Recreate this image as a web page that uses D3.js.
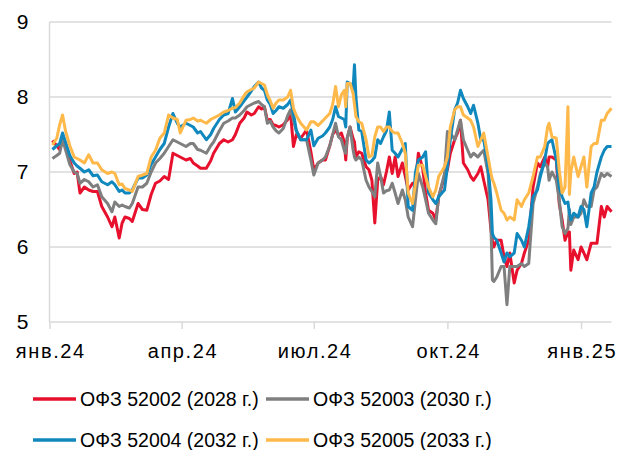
<!DOCTYPE html>
<html><head><meta charset="utf-8">
<script src="https://cdn.jsdelivr.net/npm/d3@7"></script>
<style>body{margin:0;background:#fff}svg{display:block;font-family:"Liberation Sans",Arial,sans-serif}</style>
</head><body><svg id="c" width="629" height="450"></svg>
<script>
const dates = ["2024-01-03","2024-01-06","2024-01-08","2024-01-10","2024-01-12","2024-01-15","2024-01-18","2024-01-20","2024-01-22","2024-01-25","2024-01-28","2024-01-31","2024-02-03","2024-02-06","2024-02-10","2024-02-13","2024-02-15","2024-02-18","2024-02-20","2024-02-22","2024-02-25","2024-02-27","2024-03-02","2024-03-05","2024-03-08","2024-03-11","2024-03-14","2024-03-17","2024-03-20","2024-03-23","2024-03-26","2024-03-29","2024-03-31","2024-04-04","2024-04-07","2024-04-09","2024-04-12","2024-04-14","2024-04-18","2024-04-21","2024-04-23","2024-04-27","2024-04-30","2024-05-03","2024-05-06","2024-05-08","2024-05-11","2024-05-14","2024-05-16","2024-05-19","2024-05-21","2024-05-24","2024-05-26","2024-05-28","2024-05-30","2024-06-01","2024-06-03","2024-06-05","2024-06-07","2024-06-10","2024-06-13","2024-06-15","2024-06-17","2024-06-19","2024-06-22","2024-06-26","2024-06-29","2024-07-01","2024-07-04","2024-07-07","2024-07-09","2024-07-12","2024-07-14","2024-07-16","2024-07-18","2024-07-20","2024-07-22","2024-07-23","2024-07-24","2024-07-26","2024-07-28","2024-07-29","2024-07-30","2024-08-01","2024-08-03","2024-08-06","2024-08-08","2024-08-10","2024-08-12","2024-08-14","2024-08-16","2024-08-18","2024-08-20","2024-08-22","2024-08-24","2024-08-26","2024-08-28","2024-08-31","2024-09-02","2024-09-04","2024-09-07","2024-09-09","2024-09-11","2024-09-14","2024-09-16","2024-09-18","2024-09-21","2024-09-23","2024-09-25","2024-09-29","2024-10-01","2024-10-03","2024-10-06","2024-10-08","2024-10-10","2024-10-12","2024-10-15","2024-10-17","2024-10-19","2024-10-22","2024-10-24","2024-10-26","2024-10-29","2024-10-31","2024-11-01","2024-11-02","2024-11-04","2024-11-07","2024-11-09","2024-11-11","2024-11-13","2024-11-16","2024-11-18","2024-11-21","2024-11-23","2024-11-26","2024-11-29","2024-12-02","2024-12-04","2024-12-07","2024-12-09","2024-12-10","2024-12-12","2024-12-15","2024-12-17","2024-12-19","2024-12-21","2024-12-23","2024-12-24","2024-12-25","2024-12-27","2024-12-30","2025-01-01","2025-01-03","2025-01-05","2025-01-08","2025-01-10","2025-01-12","2025-01-15","2025-01-17","2025-01-19","2025-01-22"];

const ofz52002 = [7.42,7.35,7.30,7.45,7.35,7.15,6.98,7.00,6.72,6.80,6.76,6.74,6.74,6.54,6.40,6.27,6.40,6.12,6.32,6.40,6.38,6.34,6.58,6.50,6.49,6.70,6.85,6.88,6.94,6.90,7.25,7.22,7.20,7.16,7.18,7.12,7.08,7.05,7.05,7.15,7.25,7.38,7.43,7.40,7.43,7.50,7.65,7.72,7.80,7.76,7.78,7.87,7.84,7.87,7.69,7.70,7.63,7.62,7.60,7.63,7.70,7.78,7.34,7.50,7.45,7.56,7.27,7.03,7.12,7.16,7.16,7.35,7.50,7.56,7.49,7.52,7.40,7.16,7.45,7.60,7.45,7.40,7.20,7.27,7.25,7.07,7.03,6.89,6.32,6.89,6.94,6.83,7.00,7.20,6.98,7.20,6.94,7.12,6.94,6.76,6.85,6.85,7.25,7.05,6.72,6.49,6.45,6.36,6.67,6.94,7.03,7.25,7.43,7.52,7.69,7.12,7.03,6.94,6.89,6.98,7.07,6.89,6.63,6.23,6.09,6.00,6.09,6.09,5.87,5.74,5.92,5.52,5.69,5.78,5.92,6.09,6.80,7.12,7.07,7.20,7.07,7.20,7.20,7.16,6.58,6.36,6.09,6.20,6.20,5.69,5.96,5.83,6.00,5.92,5.83,6.05,6.05,6.05,6.54,6.40,6.54,6.47];

const ofz52003 = [7.18,7.22,7.25,7.43,7.30,7.10,7.00,6.98,6.85,6.90,6.87,6.80,6.83,6.67,6.58,6.47,6.60,6.54,6.56,6.54,6.52,6.58,6.80,6.80,6.85,7.00,7.12,7.18,7.25,7.34,7.43,7.40,7.38,7.34,7.38,7.38,7.30,7.29,7.25,7.35,7.40,7.55,7.65,7.68,7.72,7.72,7.76,7.82,7.87,7.90,7.92,7.94,7.90,7.87,7.65,7.68,7.60,7.55,7.52,7.58,7.75,7.83,7.69,7.55,7.43,7.43,7.16,6.96,7.12,7.16,7.20,7.35,7.50,7.65,7.47,7.43,7.29,7.25,7.45,7.60,7.30,7.20,7.16,7.20,7.16,6.89,6.80,6.74,6.67,7.12,6.94,6.72,6.75,6.76,6.85,6.72,6.58,6.76,6.63,6.40,6.27,6.63,6.98,6.80,6.63,6.45,6.36,6.31,6.67,6.98,7.54,7.52,7.43,7.56,7.69,7.43,7.29,7.20,7.25,7.20,7.25,7.29,6.98,6.27,5.56,5.54,5.60,5.74,5.74,5.23,5.74,5.74,5.74,5.78,5.74,5.78,6.58,6.80,6.98,7.12,7.07,6.89,7.00,6.89,6.63,6.27,6.18,6.25,6.50,6.30,6.40,6.40,6.45,6.63,6.54,6.54,6.76,6.80,6.98,6.94,6.98,6.94];

const ofz52004 = [7.30,7.35,7.38,7.52,7.40,7.22,7.12,7.08,7.05,7.00,7.03,6.95,6.96,6.87,6.83,6.87,6.83,6.74,6.76,6.72,6.72,6.76,6.92,6.92,6.96,7.10,7.20,7.30,7.38,7.60,7.78,7.65,7.60,7.65,7.62,7.60,7.52,7.54,7.43,7.50,7.58,7.70,7.76,7.78,7.98,7.80,7.87,7.95,8.00,8.08,8.14,8.20,8.12,8.09,7.96,7.90,7.78,7.82,7.87,7.85,7.90,7.96,7.78,7.55,7.43,7.43,7.56,7.35,7.45,7.48,7.52,7.60,7.70,7.87,7.74,7.72,7.70,7.60,8.20,8.18,8.10,8.43,8.00,7.56,7.54,7.16,7.12,7.15,7.20,7.43,7.38,7.47,7.55,7.80,7.29,7.25,7.20,7.31,7.38,6.54,6.49,7.00,7.16,7.20,7.27,6.72,6.63,6.58,6.67,6.76,7.07,7.43,7.83,7.92,8.09,7.98,7.87,7.78,7.89,7.65,7.43,7.43,7.07,6.63,6.18,6.13,6.09,5.92,5.80,5.92,5.87,5.92,6.18,6.09,6.00,6.27,6.67,6.76,6.94,7.16,7.38,7.40,7.43,7.16,6.80,6.67,6.58,6.60,6.45,6.36,6.45,6.40,6.54,6.50,6.27,6.72,6.80,7.00,7.20,7.29,7.34,7.34];

const ofz52005 = [7.36,7.45,7.63,7.76,7.55,7.35,7.20,7.18,7.16,7.12,7.23,7.12,7.12,7.03,6.98,7.00,6.98,6.83,6.84,6.78,6.76,6.74,6.94,6.96,6.98,7.20,7.29,7.45,7.52,7.76,7.72,7.70,7.52,7.69,7.70,7.72,7.68,7.69,7.65,7.70,7.72,7.76,7.80,7.82,7.85,7.86,7.92,8.02,8.07,8.10,8.12,8.20,8.18,8.16,8.03,7.95,7.85,7.92,7.96,7.96,8.00,8.09,7.85,7.75,7.65,7.56,7.67,7.67,7.62,7.68,7.72,7.78,7.90,8.14,7.87,8.03,8.09,7.87,8.18,8.18,8.05,7.90,7.74,7.67,7.65,7.43,7.20,7.22,7.47,7.60,7.60,7.54,7.60,7.60,7.54,7.52,7.52,7.38,7.25,6.72,6.58,6.85,7.09,7.09,6.94,6.80,6.67,6.76,6.94,7.07,7.20,7.60,7.83,7.87,7.87,7.76,7.72,7.69,7.60,7.34,7.43,7.52,7.20,6.98,6.90,6.85,6.72,6.49,6.45,6.36,6.40,6.36,6.63,6.54,6.63,6.72,6.94,7.20,7.20,7.34,7.60,7.65,7.47,7.45,7.03,6.72,6.80,7.87,6.70,7.00,7.20,6.94,7.07,7.20,6.80,7.34,7.38,7.38,7.69,7.69,7.78,7.85];

const seriesNames = ["ОФЗ 52002 (2028 г.)","ОФЗ 52003 (2030 г.)","ОФЗ 52004 (2032 г.)","ОФЗ 52005 (2033 г.)"];
const seriesColors = ["#e8112d","#7f7f7f","#1088bd","#ffb94a"];
const yTicks = [5,6,7,8,9];
const xTickDates = ["2024-01-01","2024-04-01","2024-07-01","2024-10-01","2025-01-01"];
const xTickLabels = ["янв.24","апр.24","июл.24","окт.24","янв.25"];

const parse = d3.utcParse("%Y-%m-%d");
const svg = d3.select("#c");
const L = 49.5, R = 611.5, T = 22, B = 322;
const FS = 19.5;
const x = d3.scaleUtc().domain([parse("2024-01-01"), parse("2025-01-22")]).range([L, R]);
const y = d3.scaleLinear().domain([5, 9]).range([B, T]);

// gridlines
svg.append("g").selectAll("line").data(yTicks).join("line")
  .attr("x1", L).attr("x2", R).attr("y1", d => y(d)).attr("y2", d => y(d))
  .attr("stroke", "#d9d9d9").attr("stroke-width", 1.5);
// y axis line
svg.append("line").attr("x1", L).attr("x2", L).attr("y1", T).attr("y2", B)
  .attr("stroke", "#d9d9d9").attr("stroke-width", 1.5);

// y labels
const yAxis = d3.axisLeft(y).tickValues(yTicks).tickSize(0).tickPadding(21).tickFormat(d3.format("d"));
const ya = svg.append("g").attr("transform", `translate(${L},0)`).call(yAxis);
ya.select(".domain").remove();
ya.selectAll("text").attr("font-size", 21).attr("fill", "#000").attr("font-family", "Liberation Sans, Arial, sans-serif");

// x axis
const xAxis = d3.axisBottom(x).tickValues(xTickDates.map(parse)).tickSize(7).tickPadding(15)
  .tickFormat((d, i) => xTickLabels[i]);
const xa = svg.append("g").attr("transform", `translate(0,${B})`).call(xAxis);
xa.select(".domain").remove();
xa.selectAll("line").attr("stroke", "#d9d9d9").attr("stroke-width", 1.5);
xa.selectAll("text").attr("font-size", 20).attr("fill", "#000").attr("letter-spacing", "1.6px")
  .attr("dx", "0.8px").attr("font-family", "Liberation Sans, Arial, sans-serif");

// lines
const all = [ofz52002, ofz52003, ofz52004, ofz52005];
const line = d3.line().x((d, i) => x(parse(dates[i]))).y(d => y(d));
svg.append("g").selectAll("path").data(all).join("path")
  .attr("d", d => line(d)).attr("fill", "none")
  .attr("stroke", (d, i) => seriesColors[i]).attr("stroke-width", 3)
  .attr("stroke-linejoin", "round");

// legend
const legPos = [[33, 399], [266, 399], [33, 440], [266, 440]];
const lg = svg.append("g").selectAll("g").data(seriesNames).join("g")
  .attr("transform", (d, i) => `translate(${legPos[i][0]},${legPos[i][1]})`);
lg.append("line").attr("x1", 0).attr("x2", 43).attr("y1", 0).attr("y2", 0)
  .attr("stroke", (d, i) => seriesColors[i]).attr("stroke-width", 3.5);
lg.append("text").attr("x", 47).attr("y", 7).attr("font-size", FS).attr("fill", "#000").text(d => d);
</script></body></html>
